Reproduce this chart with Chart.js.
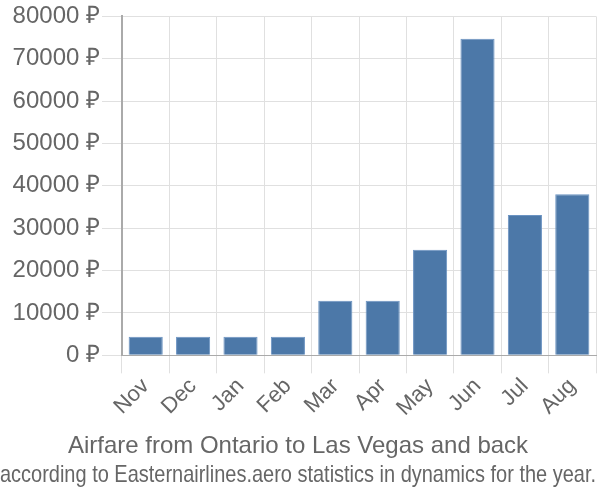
<!DOCTYPE html>
<html>
<head>
<meta charset="utf-8">
<script src="https://cdn.jsdelivr.net/npm/chart.js@4/dist/chart.umd.min.js"></script>
<style>
  html, body { margin: 0; padding: 0; background: #fff; }
  #wrap { width: 600px; height: 500px; }
</style>
</head>
<body>
<div id="wrap"><canvas id="fareChart"></canvas></div>
<script>
const months = ['Nov', 'Dec', 'Jan', 'Feb', 'Mar', 'Apr', 'May', 'Jun', 'Jul', 'Aug'];
const prices = [4400, 4400, 4400, 4400, 12900, 12900, 24900, 74700, 33100, 38000];
const titleText = 'Airfare from Ontario to Las Vegas and back';
const subtitleText = 'according to Easternairlines.aero statistics in dynamics for the year.';

Chart.defaults.font.family = '"Liberation Sans", Arial, sans-serif';
Chart.defaults.color = '#666';

new Chart(document.getElementById('fareChart'), {
  type: 'bar',
  data: {
    labels: months,
    datasets: [{
      label: 'Price',
      data: prices,
      backgroundColor: '#4c78a8',
      borderColor: '#6b93c2',
      borderWidth: 1
    }]
  },
  options: {
    responsive: true,
    maintainAspectRatio: false,
    animation: false,
    layout: { padding: { top: 6, right: 4, left: 0, bottom: 0 } },
    scales: {
      x: {
        grid: { color: '#e0e0e0', lineWidth: 1, tickLength: 18, offset: true },
        border: { color: '#aaa', width: 1 },
        ticks: { font: { size: 22 }, color: '#666', maxRotation: 45, minRotation: 45, padding: 0 }
      },
      y: {
        min: 0,
        max: 80000,
        grid: { color: '#e0e0e0', lineWidth: 1, tickLength: 20 },
        border: { color: '#aaa', width: 2 },
        afterFit: axis => { axis.width = 122; },
        ticks: {
          stepSize: 10000,
          font: { size: 24 },
          color: '#666',
          padding: 2,
          callback: v => v + ' ₽'
        }
      }
    },
    plugins: {
      legend: { display: false },
      tooltip: { enabled: false },
      title: {
        display: true,
        text: titleText,
        position: 'bottom',
        weight: 1000,
        font: { size: 24, weight: 'normal' },
        color: '#666',
        padding: { top: 11, bottom: 0 }
      },
      subtitle: {
        display: true,
        text: subtitleText,
        position: 'bottom',
        font: { size: 24, weight: 'normal' },
        color: '#666',
        padding: { top: 0, bottom: 10 }
      }
    }
  }
});
</script>
</body>
</html>
